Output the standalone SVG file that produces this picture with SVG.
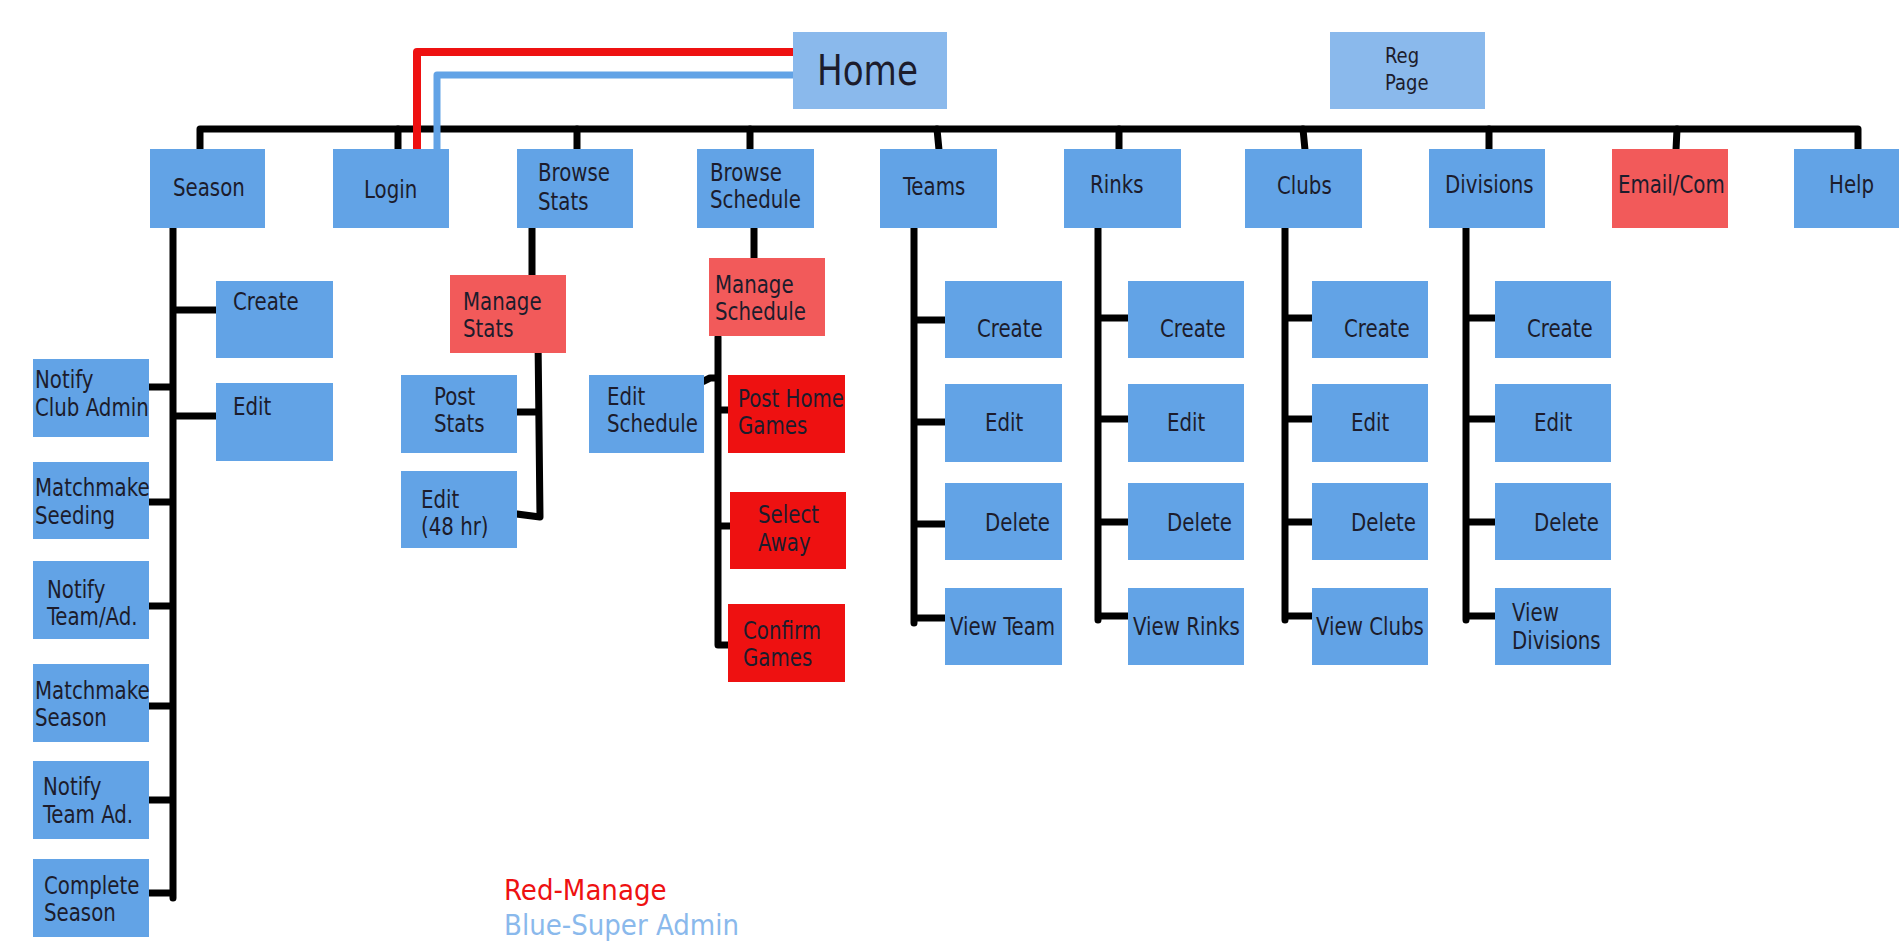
<svg xmlns="http://www.w3.org/2000/svg" width="1899" height="941" viewBox="0 0 1899 941">
<style>
.b{fill:#62a3e6}
.lb{fill:#8ab9ec}
.pr{fill:#f25a5a}
.r{fill:#ee1111}
text{font-family:"DejaVu Sans","Liberation Sans",sans-serif;font-stretch:condensed;font-size:22px;fill:#1c1c2c;transform-box:fill-box;transform-origin:center;transform:scaleY(1.1)}
.lg{font-size:29px;transform:none}
.ln{fill:none;stroke:#000;stroke-width:7;stroke-linecap:round;stroke-linejoin:round}
</style>
<rect width="1899" height="941" fill="#fff"/>
<g id="connectors">
<path class="ln" d="M200,150 V129 H1858 V150"/>
<path class="ln" d="M398,129 V150 M577,129 V150 M750,129 V150 M937,129 L939,150 M1119,129 V150 M1303,129 L1305,150 M1489,129 V150 M1677,129 L1676,150"/>
<path class="ln" d="M173,228 V898 M173,310 H216 M173,416 H216 M149,387 H173 M149,502 H173 M149,606 H173 M149,706 H173 M149,800 H173 M149,893 H173"/>
<path class="ln" d="M532,228 V275 M538,338 L540,517 L501,512 M517,412 H538"/>
<path class="ln" d="M754,228 V258 M718,337 V645 H728 M704,381 L710,378 H718 M718,410 H728 M718,526 H730"/>
<path class="ln" d="M914,228 V623 M914,320 H945 M914,422 H945 M914,524 H945 M914,618 H945"/>
<path class="ln" d="M1098,228 V620 M1098,318 H1128 M1098,419 H1128 M1098,522 H1128 M1098,616 H1128"/>
<path class="ln" d="M1285,228 V620 M1285,318 H1312 M1285,419 H1312 M1285,522 H1312 M1285,616 H1312"/>
<path class="ln" d="M1466,228 V620 M1466,318 H1495 M1466,419 H1495 M1466,522 H1495 M1466,616 H1495"/>
<path d="M793,52 H417 V149" fill="none" stroke="#ee1111" stroke-width="8" stroke-linejoin="round"/>
<path d="M793,75 H437 V149" fill="none" stroke="#62a3e6" stroke-width="7" stroke-linejoin="round"/>
</g>
<g id="home"><rect class="lb" x="793" y="32" width="154" height="77"/><text x="817" y="84" style="font-size:38px">Home</text></g>
<g id="regpage"><rect class="lb" x="1330" y="32" width="155" height="77"/><text x="1385" y="62" style="font-size:20px">Reg</text><text x="1385" y="89" style="font-size:20px">Page</text></g>
<g id="season"><rect class="b" x="150" y="149" width="115" height="79"/><text x="173" y="195">Season</text></g>
<g id="login"><rect class="b" x="333" y="149" width="116" height="79"/><text x="364" y="197">Login</text></g>
<g id="browsestats"><rect class="b" x="517" y="149" width="116" height="79"/><text x="538" y="180">Browse</text><text x="538" y="209">Stats</text></g>
<g id="browseschedule"><rect class="b" x="697" y="149" width="117" height="79"/><text x="710" y="180">Browse</text><text x="710" y="207">Schedule</text></g>
<g id="teams"><rect class="b" x="880" y="149" width="117" height="79"/><text x="903" y="194">Teams</text></g>
<g id="rinks"><rect class="b" x="1064" y="149" width="117" height="79"/><text x="1090" y="192">Rinks</text></g>
<g id="clubs"><rect class="b" x="1245" y="149" width="117" height="79"/><text x="1277" y="193">Clubs</text></g>
<g id="divisions"><rect class="b" x="1429" y="149" width="116" height="79"/><text x="1445" y="192">Divisions</text></g>
<g id="emailcom"><rect class="pr" x="1612" y="149" width="116" height="79"/><text x="1618" y="192">Email/Com</text></g>
<g id="help"><rect class="b" x="1794" y="149" width="105" height="79"/><text x="1829" y="192">Help</text></g>
<g id="season-create"><rect class="b" x="216" y="281" width="117" height="77"/><text x="233" y="309">Create</text></g>
<g id="season-edit"><rect class="b" x="216" y="383" width="117" height="78"/><text x="233" y="414">Edit</text></g>
<g id="notify-club-admin"><rect class="b" x="33" y="359" width="116" height="78"/><text x="35" y="387">Notify</text><text x="35" y="415">Club Admin</text></g>
<g id="matchmake-seeding"><rect class="b" x="33" y="462" width="116" height="77"/><text x="35" y="495">Matchmake</text><text x="35" y="523">Seeding</text></g>
<g id="notify-team-ad1"><rect class="b" x="33" y="561" width="116" height="78"/><text x="47" y="597">Notify</text><text x="47" y="624">Team/Ad.</text></g>
<g id="matchmake-season"><rect class="b" x="33" y="664" width="116" height="78"/><text x="35" y="698">Matchmake</text><text x="35" y="725">Season</text></g>
<g id="notify-team-ad2"><rect class="b" x="33" y="761" width="116" height="78"/><text x="43" y="794">Notify</text><text x="43" y="822">Team Ad.</text></g>
<g id="complete-season"><rect class="b" x="33" y="859" width="116" height="78"/><text x="44" y="893">Complete</text><text x="44" y="920">Season</text></g>
<g id="manage-stats"><rect class="pr" x="450" y="275" width="116" height="78"/><text x="463" y="309">Manage</text><text x="463" y="336">Stats</text></g>
<g id="post-stats"><rect class="b" x="401" y="375" width="116" height="78"/><text x="434" y="404">Post</text><text x="434" y="431">Stats</text></g>
<g id="edit-48"><rect class="b" x="401" y="471" width="116" height="77"/><text x="421" y="507">Edit</text><text x="421" y="534">(48 hr)</text></g>
<g id="manage-schedule"><rect class="pr" x="709" y="258" width="116" height="78"/><text x="715" y="292">Manage</text><text x="715" y="319">Schedule</text></g>
<g id="edit-schedule"><rect class="b" x="589" y="375" width="115" height="78"/><text x="607" y="404">Edit</text><text x="607" y="431">Schedule</text></g>
<g id="post-home-games"><rect class="r" x="728" y="375" width="117" height="78"/><text x="738" y="406">Post Home</text><text x="738" y="433">Games</text></g>
<g id="select-away"><rect class="r" x="730" y="492" width="116" height="77"/><text x="758" y="522">Select</text><text x="758" y="550">Away</text></g>
<g id="confirm-games"><rect class="r" x="728" y="604" width="117" height="78"/><text x="743" y="638">Confirm</text><text x="743" y="665">Games</text></g>
<g id="teams-create"><rect class="b" x="945" y="281" width="117" height="77"/><text x="977" y="336">Create</text></g>
<g id="teams-edit"><rect class="b" x="945" y="384" width="117" height="78"/><text x="985" y="430">Edit</text></g>
<g id="teams-delete"><rect class="b" x="945" y="483" width="117" height="77"/><text x="985" y="530">Delete</text></g>
<g id="teams-view"><rect class="b" x="945" y="588" width="117" height="77"/><text x="950" y="634">View Team</text></g>
<g id="rinks-create"><rect class="b" x="1128" y="281" width="116" height="77"/><text x="1160" y="336">Create</text></g>
<g id="rinks-edit"><rect class="b" x="1128" y="384" width="116" height="78"/><text x="1167" y="430">Edit</text></g>
<g id="rinks-delete"><rect class="b" x="1128" y="483" width="116" height="77"/><text x="1167" y="530">Delete</text></g>
<g id="rinks-view"><rect class="b" x="1128" y="588" width="116" height="77"/><text x="1133" y="634">View Rinks</text></g>
<g id="clubs-create"><rect class="b" x="1312" y="281" width="116" height="77"/><text x="1344" y="336">Create</text></g>
<g id="clubs-edit"><rect class="b" x="1312" y="384" width="116" height="78"/><text x="1351" y="430">Edit</text></g>
<g id="clubs-delete"><rect class="b" x="1312" y="483" width="116" height="77"/><text x="1351" y="530">Delete</text></g>
<g id="clubs-view"><rect class="b" x="1312" y="588" width="116" height="77"/><text x="1316" y="634">View Clubs</text></g>
<g id="div-create"><rect class="b" x="1495" y="281" width="116" height="77"/><text x="1527" y="336">Create</text></g>
<g id="div-edit"><rect class="b" x="1495" y="384" width="116" height="78"/><text x="1534" y="430">Edit</text></g>
<g id="div-delete"><rect class="b" x="1495" y="483" width="116" height="77"/><text x="1534" y="530">Delete</text></g>
<g id="div-view"><rect class="b" x="1495" y="588" width="116" height="77"/><text x="1512" y="620">View</text><text x="1512" y="648">Divisions</text></g>
<g id="legend"><text class="lg" x="504" y="900" style="fill:#ee1111">Red-Manage</text><text class="lg" x="504" y="935" style="fill:#8ab9ec">Blue-Super Admin</text></g>
</svg>
